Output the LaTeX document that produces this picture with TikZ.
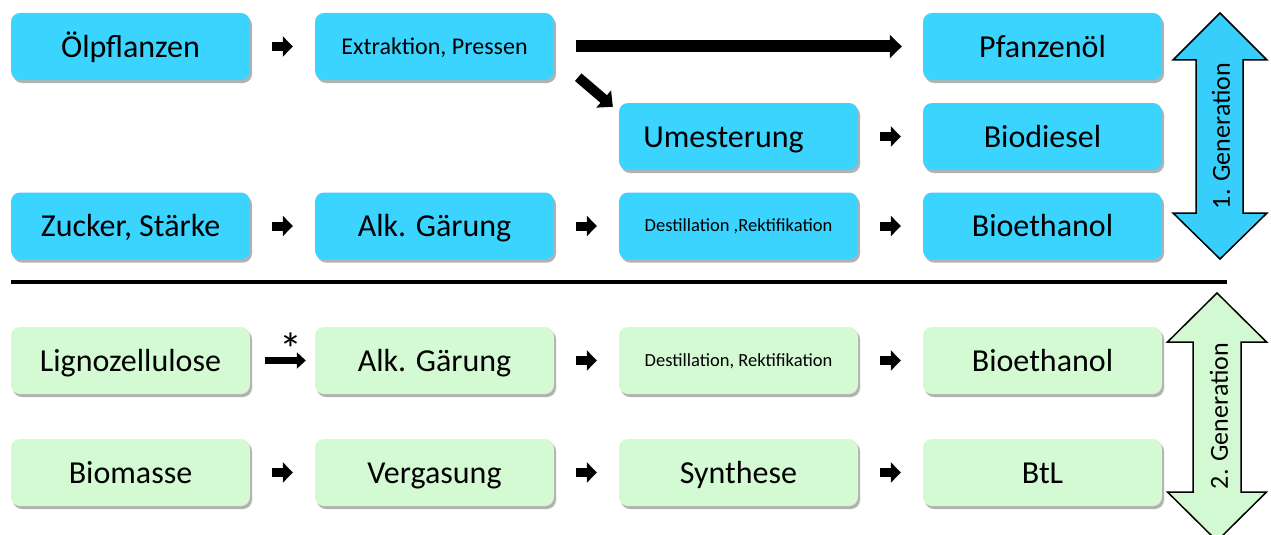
\documentclass[tikz,border=0pt]{standalone}
\usepackage{fontspec}
\setmainfont{Carlito}
\usetikzlibrary{arrows.meta,shadows,calc}
\definecolor{genone}{RGB}{58,212,255}
\definecolor{genonearrow}{RGB}{56,206,252}
\definecolor{gentwo}{RGB}{212,250,212}
\definecolor{gentwoarrow}{RGB}{210,249,210}
\begin{document}
\begin{tikzpicture}[x=1pt,y=-1pt,
  box/.style={rounded corners=9pt, minimum width=239pt, minimum height=67pt,
    inner sep=0pt, text=black, font=\fontsize{32}{36}\selectfont,
    text height=21pt, text depth=0pt,
    drop shadow={shadow xshift=2pt, shadow yshift=-3pt, opacity=0.3, fill=black}},
  first/.style={box, fill=genone},
  second/.style={box, fill=gentwo},
  midtext/.style={font=\fontsize{24}{28}\selectfont, text height=17pt},
  smalltext/.style={font=\fontsize{18.5}{22}\selectfont, text height=11.5pt},
  flow/.style={draw=black, line width=9pt, -{Triangle[length=10pt,width=20pt]},
    shorten <=22pt, shorten >=22pt},
  longflow/.style={draw=black, line width=12pt, -{Triangle[length=12pt,width=23pt]}},
  genarrow/.style={line width=1.5pt, draw=black, line join=miter},
  genlabel/.style={rotate=90, font=\fontsize{26}{30}\selectfont}
]
\useasboundingbox (0,0) rectangle (1271,535);
\clip (0,0) rectangle (1271,535);

% first generation
\node[first] (oel) at (130.5,46.5) {Ölpflanzen};
\node[first, midtext] (extr) at (434.5,46.5) {Extraktion, Pressen};
\node[first] (pfl) at (1042.5,46.5) {Pfanzenöl};
\node[first] (umest) at (738.5,136.5) {Umesterung\rule{30pt}{0pt}};
\node[first] (bdiesel) at (1042.5,136.5) {Biodiesel};
\node[first] (zucker) at (130.5,226) {Zucker, Stärke};
\node[first] (alk) at (434.5,226) {Alk. Gärung};
\node[first, smalltext] (dest) at (738.5,226) {Destillation ,Rektifikation};
\node[first] (bethA) at (1042.5,226) {Bioethanol};

% second generation
\node[second] (ligno) at (130.5,360.5) {Lignozellulose};
\node[second] (alkB) at (434.5,360.5) {Alk. Gärung};
\node[second, smalltext] (destB) at (738.5,360.5) {Destillation, Rektifikation};
\node[second] (bethB) at (1042.5,360.5) {Bioethanol};
\node[second] (biom) at (130.5,472.5) {Biomasse};
\node[second] (verg) at (434.5,472.5) {Vergasung};
\node[second] (synth) at (738.5,472.5) {Synthese};
\node[second] (btl) at (1042.5,472.5) {BtL};

% process arrows
\draw[flow] (oel) -- (extr);
\draw[longflow, shorten <=22pt, shorten >=21pt] (extr) -- (pfl);
\draw[draw=black, line width=10pt, -{Triangle[length=12pt,width=22pt]}]
  ($(extr.south east)+(24,-3)$) -- ($(umest.north west)+(-6,4)$);
\draw[flow] (umest) -- (bdiesel);
\draw[flow] (zucker) -- (alk);
\draw[flow] (alk) -- (dest);
\draw[flow] (dest) -- (bethA);

\draw[draw=black, line width=7pt, -{Triangle[length=9pt,width=16pt]},
  shorten <=15pt, shorten >=9pt] (ligno) -- (alkB);
\node[font=\fontsize{46}{50}\selectfont, anchor=base, inner sep=0pt] (star) at (291,365) {*};
\draw[flow] (alkB) -- (destB);
\draw[flow] (destB) -- (bethB);
\draw[flow] (biom) -- (verg);
\draw[flow] (verg) -- (synth);
\draw[flow] (synth) -- (btl);

% separator
\draw[line width=4pt] (11,282) -- (1227,282);

% generation arrows
\filldraw[genarrow, fill=genonearrow]
  (1220,13) -- (1267,60) -- (1243,60) -- (1243,213) -- (1267,213) -- (1220,259)
  -- (1173,213) -- (1196,213) -- (1196,60) -- (1173,60) -- cycle;
\node[genlabel] (gen1) at (1221,136) {1. Generation};

\filldraw[genarrow, fill=gentwoarrow]
  (1217,293) -- (1266.5,342) -- (1241,342) -- (1241,492) -- (1266.5,492) -- (1217,541)
  -- (1167.5,492) -- (1193,492) -- (1193,342) -- (1167.5,342) -- cycle;
\node[genlabel] (gen2) at (1219,416) {2. Generation};
\end{tikzpicture}
\end{document}
